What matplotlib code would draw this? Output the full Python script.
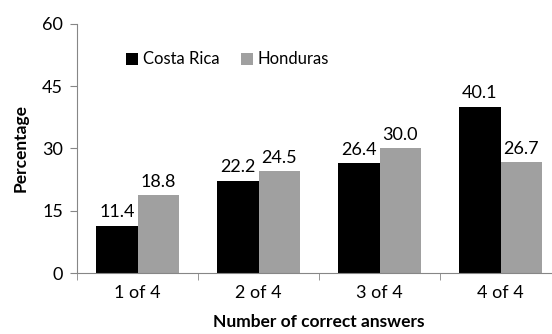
import matplotlib.pyplot as plt
import numpy as np

plt.rcParams['font.family'] = ['Lato', 'DejaVu Sans']

categories = ['1 of 4', '2 of 4', '3 of 4', '4 of 4']
costa_rica = [11.4, 22.2, 26.4, 40.1]
honduras = [18.8, 24.5, 30.0, 26.7]

fig = plt.figure(figsize=(5.52, 3.34), dpi=100)
ax = fig.add_axes([77 / 552, 61 / 334, 484 / 552, 249 / 334])

x = np.arange(len(categories))
w = 0.34
b1 = ax.bar(x - w / 2, costa_rica, w, color='black', label='Costa Rica')
b2 = ax.bar(x + w / 2, honduras, w, color='#a0a0a0', label='Honduras')

for bars, vals in [(b1, costa_rica), (b2, honduras)]:
    for r, v in zip(bars, vals):
        ax.text(r.get_x() + r.get_width() / 2, v + 1.3, f'{v:.1f}',
                ha='center', va='bottom', fontsize=13)

ax.set_xlim(-0.5, 3.5)
ax.set_ylim(0, 60)
ax.set_yticks([0, 15, 30, 45, 60])
ax.set_xticks(x)
ax.set_xticklabels(categories)
ax.set_xticks(np.arange(-0.5, 4, 1), minor=True)
ax.tick_params(axis='x', which='major', length=0, pad=9, labelsize=13)
ax.tick_params(axis='x', which='minor', length=5, color='#868686', direction='out')
ax.tick_params(axis='y', length=5, color='#868686', labelsize=13, pad=5)

for s in ['top', 'right']:
    ax.spines[s].set_visible(False)
for s in ['left', 'bottom']:
    ax.spines[s].set_color('#868686')

ax.set_ylabel('Percentage', fontweight='bold', fontsize=12.5, labelpad=10)
ax.set_xlabel('Number of correct answers', fontweight='bold', fontsize=12.5, labelpad=9)

ax.legend(loc='upper left', bbox_to_anchor=(0.07, 0.95), ncol=2, frameon=False,
          fontsize=12, handlelength=0.75, handleheight=0.75, handletextpad=0.25,
          columnspacing=1.3)

fig.savefig('out.png', dpi=100)
